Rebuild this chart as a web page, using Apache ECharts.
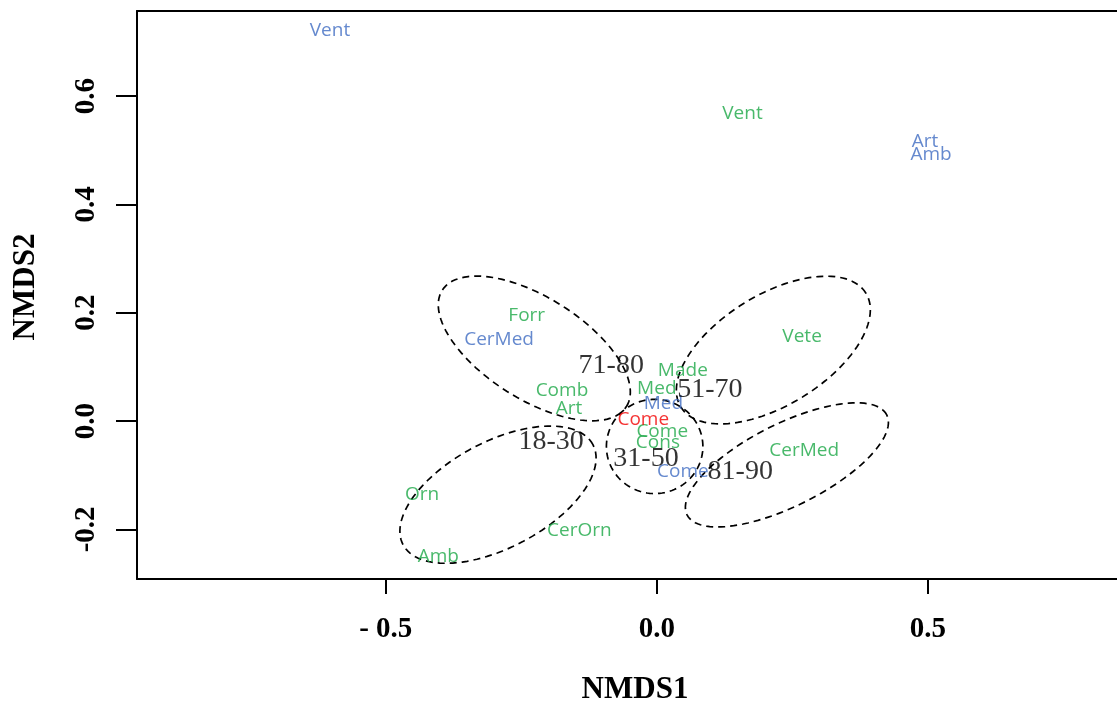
<!DOCTYPE html>
<html>
<head>
<meta charset="utf-8">
<script src="https://cdn.jsdelivr.net/npm/echarts@6/dist/echarts.min.js"></script>
<style>
html,body{margin:0;padding:0;background:#fff;}
#main{width:1117px;height:704px;}
</style>
</head>
<body>
<div id="main"></div>
<script>
// ---- data ----
const xTicks = [-0.5, 0.0, 0.5];
const yTicks = [-0.2, 0.0, 0.2, 0.4, 0.6];

// blue labels
const blueNames = ['Vent', 'Art', 'Amb', 'CerMed', 'Med', 'Come'];
const blueX     = [-0.603, 0.495, 0.506, -0.291, 0.012, 0.048];
const blueY     = [0.720, 0.515, 0.491, 0.151, 0.033, -0.094];

// green labels
const greenNames = ['Vent', 'Forr', 'Vete', 'Made', 'Med', 'Comb', 'Art', 'Come', 'Cons', 'CerMed', 'Orn', 'CerOrn', 'Amb'];
const greenX     = [0.158, -0.240, 0.268, 0.048, 0.000, -0.175, -0.162, 0.010, 0.002, 0.272, -0.433, -0.143, -0.403];
const greenY     = [0.567, 0.194, 0.155, 0.094, 0.059, 0.057, 0.022, -0.020, -0.039, -0.055, -0.135, -0.203, -0.251];

// red labels
const redNames = ['Come'];
const redX     = [-0.025];
const redY     = [0.002];

// age-group labels
const ageNames = ['71-80', '51-70', '18-30', '31-50', '81-90'];
const ageX     = [-0.084, 0.098, -0.195, -0.020, 0.154];
const ageY     = [0.102, 0.057, -0.039, -0.070, -0.094];

// ellipses: center x, center y, semi-axis a, semi-axis b, angle (deg)
const ellCX    = [-0.226, 0.215, -0.293, -0.004, 0.240];
const ellCY    = [0.134, 0.131, -0.136, -0.047, -0.081];
const ellA     = [0.201, 0.2005, 0.198, 0.089, 0.206];
const ellB     = [0.094, 0.102, 0.098, 0.087, 0.076];
const ellAngle = [-32.3, 31.6, 27.8, 0, 26.6];

// ---- build ----
function pts(names, xs, ys) {
  return names.map((n, i) => ({ name: n, value: [xs[i], ys[i]] }));
}
function labelSeries(names, xs, ys, color, font, size, weight) {
  return {
    type: 'scatter',
    data: pts(names, xs, ys),
    symbolSize: 0,
    itemStyle: { color: 'rgba(0,0,0,0)' },
    silent: true,
    label: {
      show: true,
      position: 'inside',
      align: 'center',
      verticalAlign: 'middle',
      formatter: p => p.name,
      color: color,
      fontFamily: font,
      fontSize: size,
      fontWeight: weight || 'normal'
    },
    labelLayout: { hideOverlap: false },
    z: 5
  };
}
const ellData = ellCX.map((c, i) => [c, ellCY[i], ellA[i], ellB[i], ellAngle[i]]);

const chart = echarts.init(document.getElementById('main'), null, { renderer: 'canvas' });
const serif = '"Liberation Serif", "Times New Roman", serif';
const sans = '"Open Sans", "Noto Sans", sans-serif';
const black = { color: '#000', width: 2 };
chart.setOption({
  animation: false,
  backgroundColor: '#fff',
  grid: { left: 137, top: 11, right: 0, bottom: 125, outerBoundsMode: 'none', containLabel: false },
  xAxis: [{
    type: 'value',
    min: -0.959, max: 0.849,
    name: 'NMDS1',
    nameLocation: 'middle',
    nameGap: 95,
    nameTextStyle: { fontFamily: serif, fontWeight: 'bold', fontSize: 31, color: '#000', padding: [0, 0, 0, 16] },
    axisLine: { show: true, onZero: false, lineStyle: black },
    axisTick: { show: true, length: 15, lineStyle: black, customValues: xTicks },
    axisLabel: {
      customValues: xTicks,
      margin: 36,
      fontFamily: serif, fontWeight: 'bold', fontSize: 29, color: '#000',
      formatter: v => (v < 0 ? '- ' + Math.abs(v).toFixed(1) : v.toFixed(1))
    },
    splitLine: { show: false }
  }, {
    type: 'value',
    position: 'top',
    min: -0.959, max: 0.849,
    axisLine: { show: true, onZero: false, lineStyle: black },
    axisTick: { show: false },
    axisLabel: { show: false },
    splitLine: { show: false }
  }],
  yAxis: {
    type: 'value',
    min: -0.2917, max: 0.757,
    name: 'NMDS2',
    nameLocation: 'middle',
    nameGap: 96,
    nameTextStyle: { fontFamily: serif, fontWeight: 'bold', fontSize: 31, color: '#000', padding: [0, 0, 0, 16] },
    axisLine: { show: true, onZero: false, lineStyle: black },
    axisTick: { show: true, length: 21, lineStyle: black, customValues: yTicks },
    axisLabel: {
      customValues: yTicks,
      rotate: 90,
      margin: 36,
      fontFamily: serif, fontWeight: 'bold', fontSize: 29, color: '#000',
      formatter: v => v.toFixed(1)
    },
    splitLine: { show: false }
  },
  series: [
    {
      type: 'custom',
      data: ellData,
      silent: true,
      encode: { x: 0, y: 1 },
      renderItem: function (params, api) {
        const cx = api.value(0), cy = api.value(1), a = api.value(2), b = api.value(3);
        const th = api.value(4) * Math.PI / 180;
        const points = [];
        const n = 120;
        for (let k = 0; k <= n; k++) {
          const t = 2 * Math.PI * k / n;
          const ex = a * Math.cos(t), ey = b * Math.sin(t);
          const x = cx + ex * Math.cos(th) - ey * Math.sin(th);
          const y = cy + ex * Math.sin(th) + ey * Math.cos(th);
          points.push(api.coord([x, y]));
        }
        return {
          type: 'polyline',
          shape: { points: points },
          style: { stroke: '#000', lineWidth: 1.7, lineDash: [7, 5], fill: null }
        };
      },
      z: 2
    },
    labelSeries(blueNames, blueX, blueY, '#3E6BC2', sans, 19),
    labelSeries(greenNames, greenX, greenY, '#1BA846', sans, 19),
    labelSeries(redNames, redX, redY, '#F20000', sans, 19),
    labelSeries(ageNames, ageX, ageY, '#000', serif, 28)
  ]
});
</script>
</body>
</html>
